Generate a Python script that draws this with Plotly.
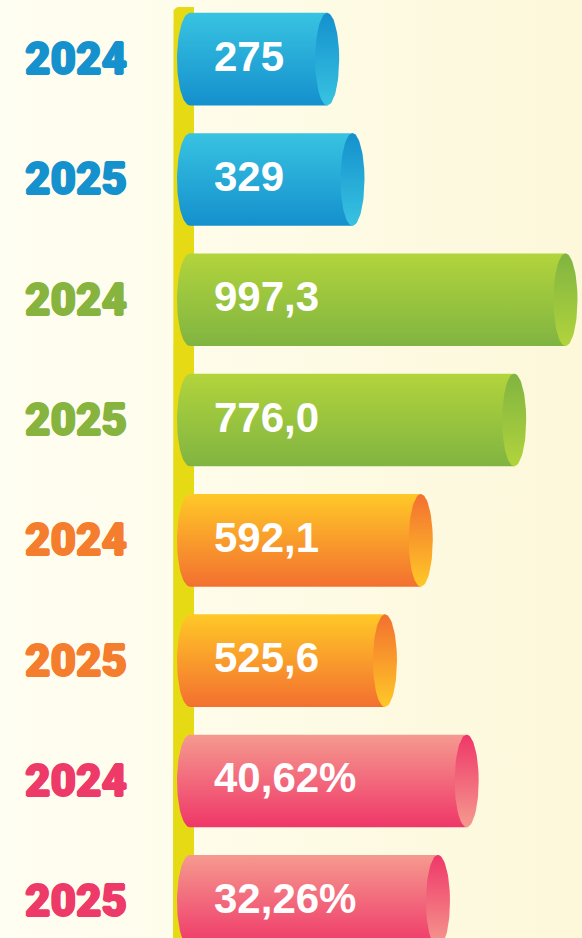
import numpy as np
import plotly.graph_objects as go

# ---------------- data ----------------
years = ["2024", "2025", "2024", "2025", "2024", "2025", "2024", "2025"]
values = [275, 329, 997.3, 776.0, 592.1, 525.6, 40.62, 32.26]
value_labels = ["275", "329", "997,3", "776,0", "592,1", "525,6", "40,62%", "32,26%"]
bar_group = [0, 0, 1, 1, 2, 2, 3, 3]

# ---------------- style / layout ----------------
W, H = 582, 938
# each indicator group has its own horizontal scale (separate hidden x-axes)
axis_ranges = [(-423.4, 818.9), (-1442.3, 1068.5), (-189.6, 891.6), (-95.32, 74.21)]
palette = [
    dict(top="#38C3E1", bot="#1490CD", text="#1592CE"),
    dict(top="#B2D43C", bot="#80B441", text="#86B43F"),
    dict(top="#FFC827", bot="#F37030", text="#F47E2E"),
    dict(top="#F59A8F", bot="#EF3768", text="#EE3A69"),
]
ROW_TOP_PX, ROW_STEP_PX = 59.15, 120.3
POLE_LEFT_PX, POLE_RIGHT_PX, POLE_TOP_PX, POLE_R = 173, 194, 7, 6
BAR_LEFT_PX, LEFT_RX_PX, CAP_RX_PX, BAR_HALF_H_PX = 190, 13, 12, 46.3
POLE_COLOR = "#E6DA15"

axis_names = ["x", "x2", "x3", "x4"]


def px_to_x(g, px):
    lo, hi = axis_ranges[g]
    return lo + px / W * (hi - lo)


def dpx_to_dx(g, px):
    lo, hi = axis_ranges[g]
    return px / W * (hi - lo)


def py_to_y(py):
    return (py - ROW_TOP_PX) / ROW_STEP_PX


RY = BAR_HALF_H_PX / ROW_STEP_PX
y_lo, y_hi = py_to_y(0), py_to_y(H)

fig = go.Figure()

# background (soft horizontal gradient)
lo0, hi0 = axis_ranges[0]
fig.add_trace(go.Scatter(
    x=[lo0, hi0, hi0, lo0, lo0], y=[y_lo, y_lo, y_hi, y_hi, y_lo],
    fill="toself", mode="lines", line=dict(width=0),
    fillgradient=dict(type="horizontal", start=lo0, stop=hi0,
                      colorscale=[[0, "#FFFEF2"], [1, "#FDF8DA"]]),
    hoverinfo="skip", xaxis="x", yaxis="y"))

# yellow pole with rounded top-left corner (built in pixel space)
t = np.linspace(np.pi, 1.5 * np.pi, 12)
cx, cy = POLE_LEFT_PX + POLE_R, POLE_TOP_PX + POLE_R
pole_px = [(POLE_LEFT_PX, H + 2)]
pole_px += [(cx + POLE_R * np.cos(a), cy + POLE_R * np.sin(a)) for a in t]
pole_px += [(POLE_RIGHT_PX, POLE_TOP_PX), (POLE_RIGHT_PX, H + 2), (POLE_LEFT_PX, H + 2)]
fig.add_trace(go.Scatter(
    x=[px_to_x(0, p[0]) for p in pole_px], y=[py_to_y(p[1]) for p in pole_px],
    fill="toself", mode="lines", line=dict(width=0), fillcolor=POLE_COLOR,
    hoverinfo="skip", xaxis="x", yaxis="y"))

# cylinders
for i, (v, g) in enumerate(zip(values, bar_group)):
    col = palette[g]
    xa = axis_names[g]
    cL = px_to_x(g, BAR_LEFT_PX)
    rxL = dpx_to_dx(g, LEFT_RX_PX)
    rxC = dpx_to_dx(g, CAP_RX_PX)
    yc = i
    a = np.linspace(0.5 * np.pi, 1.5 * np.pi, 40)
    bx = list(cL + rxL * np.cos(a)) + [v, v, cL]
    by = list(yc + RY * np.sin(a)) + [yc - RY, yc + RY, yc + RY]
    fig.add_trace(go.Scatter(
        x=bx, y=by, fill="toself", mode="lines", line=dict(width=0),
        fillgradient=dict(type="vertical", start=yc - RY, stop=yc + RY,
                          colorscale=[[0, col["top"]], [1, col["bot"]]]),
        hoverinfo="skip", xaxis=xa, yaxis="y"))
    e = np.linspace(0, 2 * np.pi, 80)
    fig.add_trace(go.Scatter(
        x=v + rxC * np.cos(e), y=yc + RY * np.sin(e), fill="toself", mode="lines",
        line=dict(width=0),
        fillgradient=dict(type="vertical", start=yc - RY, stop=yc + RY,
                          colorscale=[[0, col["bot"]], [1, col["top"]]]),
        hoverinfo="skip", xaxis=xa, yaxis="y"))

annotations = []
for i, (yr, lab, g) in enumerate(zip(years, value_labels, bar_group)):
    c = palette[g]["text"]
    annotations.append(dict(
        x=23 / W, xref="paper", y=i, yref="y", text=yr, showarrow=False,
        xanchor="left", yanchor="middle",
        font=dict(family="Roboto Black, Roboto", size=44, weight=900, color=c,
                  shadow="1px 0 0 %s, -1px 0 0 %s, 0 1px 0 %s, 0 -1px 0 %s" % (c, c, c, c))))
    annotations.append(dict(
        x=212 / W, xref="paper", y=i, yref="y", yshift=3, text=lab, showarrow=False,
        xanchor="left", yanchor="middle",
        font=dict(family="Liberation Sans, Arial", size=42, weight="bold", color="white")))

layout = dict(
    width=W, height=H, margin=dict(l=0, r=0, t=0, b=0),
    paper_bgcolor="#FEFDF0", plot_bgcolor="rgba(0,0,0,0)",
    showlegend=False, annotations=annotations,
    yaxis=dict(range=[y_hi, y_lo], visible=False, fixedrange=True),
)
for g, name in enumerate(axis_names):
    key = "xaxis" if g == 0 else "xaxis%d" % (g + 1)
    ax = dict(range=list(axis_ranges[g]), visible=False, fixedrange=True,
              domain=[0, 1], anchor="y")
    if g > 0:
        ax["overlaying"] = "x"
    layout[key] = ax
fig.update_layout(**layout)

fig.write_html("out.html", config={"displayModeBar": False},
               post_script="document.body.style.margin='0';document.body.style.background='#FEFDF0';")
